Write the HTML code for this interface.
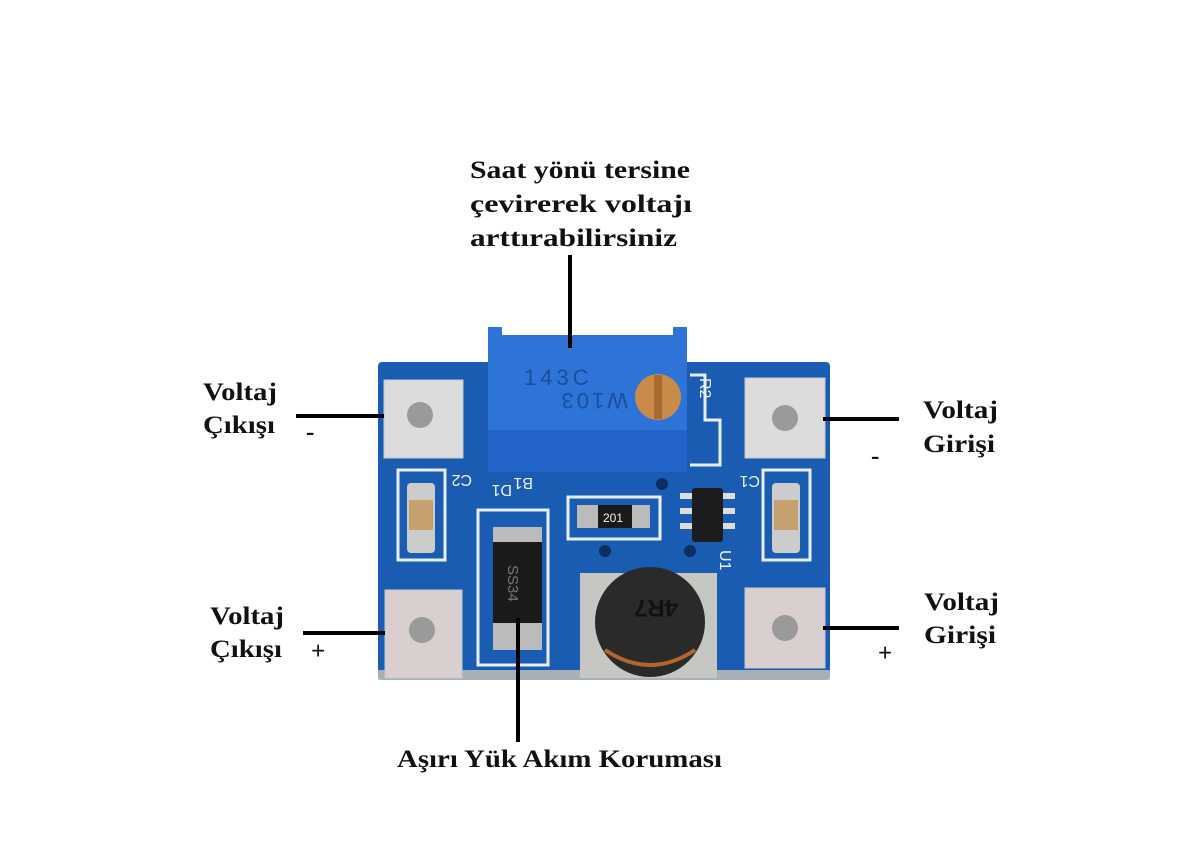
<!DOCTYPE html>
<html><head><meta charset="utf-8"><style>
html,body{margin:0;padding:0;background:#fff;}
svg{display:block}
text.lbl{font-family:"Liberation Serif","DejaVu Serif",serif;font-weight:bold;fill:#111;}
text.silk{font-family:"Liberation Sans",sans-serif;fill:#eef2fa;}
</style></head><body>
<svg width="1200" height="867" viewBox="0 0 1200 867" xmlns="http://www.w3.org/2000/svg">
<rect width="1200" height="867" fill="#fff"/>
<!-- board -->
<rect x="378" y="362" width="452" height="318" rx="4" fill="#1a5cb2"/>
<rect x="378" y="670" width="452" height="10" fill="#c9c6b8" opacity="0.8"/>
<g fill="none" stroke="#e8eef8" stroke-width="3">
<rect x="398" y="470" width="47" height="90"/>
<rect x="763" y="470" width="47" height="90"/>
<rect x="478" y="510" width="70" height="155"/>
<rect x="568" y="497" width="92" height="42"/>
<polyline points="690,375 705,375 705,420 720,420 720,465 690,465"/>
</g>
<g fill="#dcdcdc" stroke="#c8c8c8">
<rect x="384" y="380" width="79" height="78"/>
<rect x="745" y="378" width="80" height="80"/>
<rect x="385" y="590" width="77" height="88" fill="#d9cfcf"/>
<rect x="745" y="588" width="80" height="80" fill="#d9cfcf"/>
</g>
<g fill="#9a9a9a">
<circle cx="420" cy="415" r="13"/><circle cx="785" cy="418" r="13"/>
<circle cx="422" cy="630" r="13"/><circle cx="785" cy="628" r="13"/>
</g>
<rect x="407" y="483" width="28" height="70" rx="4" fill="#ccc"/>
<rect x="409" y="500" width="24" height="30" fill="#c7a070"/>
<rect x="772" y="483" width="28" height="70" rx="4" fill="#ccc"/>
<rect x="774" y="500" width="24" height="30" fill="#c7a070"/>
<rect x="577" y="505" width="73" height="23" fill="#bbb"/>
<rect x="598" y="505" width="34" height="23" fill="#1a1a1a"/>
<text class="silk" x="603" y="522" font-size="12" fill="#fff">201</text>
<g fill="#ddd"><rect x="680" y="493" width="12" height="6"/><rect x="680" y="508" width="12" height="6"/><rect x="680" y="523" width="12" height="6"/>
<rect x="723" y="493" width="12" height="6"/><rect x="723" y="508" width="12" height="6"/><rect x="723" y="523" width="12" height="6"/></g>
<rect x="692" y="488" width="31" height="54" rx="3" fill="#1c1c1c"/>
<g fill="#0c2f60"><circle cx="662" cy="484" r="6"/><circle cx="605" cy="551" r="6"/><circle cx="690" cy="551" r="6"/></g>
<rect x="493" y="527" width="49" height="123" fill="#bbb"/>
<rect x="493" y="542" width="49" height="81" fill="#1b1b1b"/>
<text transform="translate(508,565) rotate(90)" font-size="15" style="fill:#777;font-family:'Liberation Sans',sans-serif">SS34</text>
<rect x="580" y="573" width="137" height="105" fill="#c6c6c2"/>
<circle cx="650" cy="622" r="55" fill="#2a2a2a"/>
<path d="M605 650 Q650 680 695 650" stroke="#b5642a" stroke-width="4" fill="none"/>
<text transform="translate(678,600) rotate(180)" font-size="24" style="fill:#111;font-family:'Liberation Sans',sans-serif;font-weight:bold">4R7</text>
<rect x="488" y="335" width="199" height="137" fill="#2e74d6"/>
<rect x="488" y="430" width="199" height="42" fill="#2364c8"/>
<rect x="488" y="327" width="14" height="10" fill="#2e74d6"/><rect x="673" y="327" width="14" height="10" fill="#2e74d6"/>
<text x="524" y="385" font-size="22" style="fill:#1a4f9c;font-family:'Liberation Sans',sans-serif;letter-spacing:4px">143C</text>
<text transform="translate(628,393) rotate(180)" font-size="22" style="fill:#1a4f9c;font-family:'Liberation Sans',sans-serif;letter-spacing:3px">W103</text>
<circle cx="658" cy="397" r="23" fill="#c98a4a"/>
<rect x="654" y="375" width="8" height="44" fill="#a86a30"/>
<text class="silk" font-size="16" transform="translate(700,378) rotate(90)">R2</text>
<text class="silk" font-size="16" transform="translate(472,475) rotate(180)">C2</text>
<text class="silk" font-size="16" transform="translate(533,478) rotate(180)">B1</text>
<text class="silk" font-size="16" transform="translate(512,485) rotate(180)">D1</text>
<text class="silk" font-size="16" transform="translate(760,476) rotate(180)">C1</text>
<text class="silk" font-size="16" transform="translate(720,550) rotate(90)">U1</text>
<g stroke="#000" stroke-width="4">
<line x1="570" y1="255" x2="570" y2="348"/>
<line x1="296" y1="416" x2="384" y2="416"/>
<line x1="303" y1="633" x2="385" y2="633"/>
<line x1="823" y1="419" x2="899" y2="419"/>
<line x1="823" y1="628" x2="899" y2="628"/>
<line x1="518" y1="618" x2="518" y2="742"/>
</g>
<g font-size="25">
<text class="lbl" x="470" y="178" textLength="220" lengthAdjust="spacingAndGlyphs">Saat yönü tersine</text>
<text class="lbl" x="470" y="212" textLength="222" lengthAdjust="spacingAndGlyphs">çevirerek voltajı</text>
<text class="lbl" x="470" y="246" textLength="207" lengthAdjust="spacingAndGlyphs">arttırabilirsiniz</text>
<text class="lbl" x="203" y="400" textLength="74" lengthAdjust="spacingAndGlyphs">Voltaj</text>
<text class="lbl" x="203" y="433" textLength="72" lengthAdjust="spacingAndGlyphs">Çıkışı</text>
<text class="lbl" x="306" y="440">-</text>
<text class="lbl" x="210" y="624" textLength="74" lengthAdjust="spacingAndGlyphs">Voltaj</text>
<text class="lbl" x="210" y="657" textLength="72" lengthAdjust="spacingAndGlyphs">Çıkışı</text>
<text class="lbl" x="311" y="659">+</text>
<text class="lbl" x="923" y="418" textLength="75" lengthAdjust="spacingAndGlyphs">Voltaj</text>
<text class="lbl" x="923" y="452" textLength="72" lengthAdjust="spacingAndGlyphs">Girişi</text>
<text class="lbl" x="871" y="464">-</text>
<text class="lbl" x="924" y="610" textLength="75" lengthAdjust="spacingAndGlyphs">Voltaj</text>
<text class="lbl" x="924" y="643" textLength="72" lengthAdjust="spacingAndGlyphs">Girişi</text>
<text class="lbl" x="878" y="661">+</text>
<text class="lbl" x="397" y="767" textLength="325" lengthAdjust="spacingAndGlyphs">Aşırı Yük Akım Koruması</text>
</g>
</svg>
</body></html>
